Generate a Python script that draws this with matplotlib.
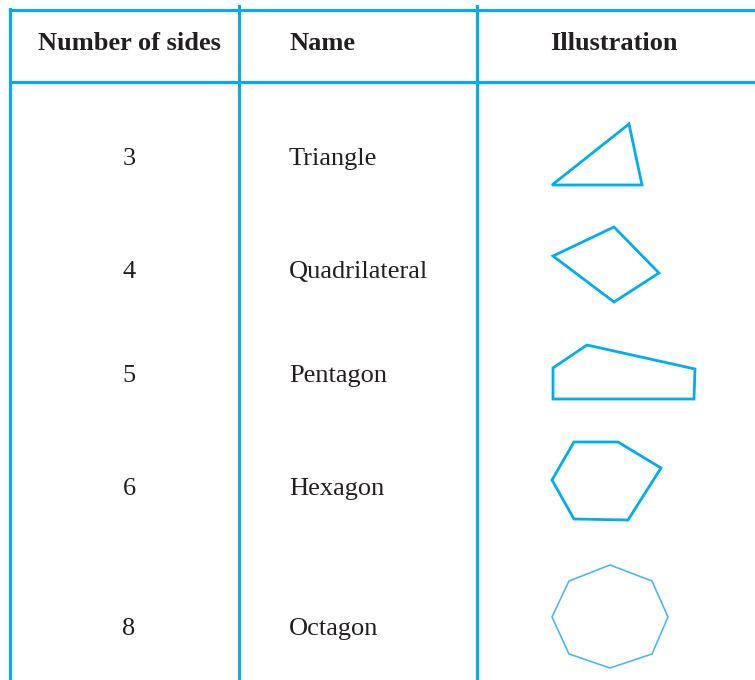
import matplotlib.pyplot as plt
from matplotlib.patches import Polygon

# table content
headers = ["Number of sides", "Name", "Illustration"]
sides = ["3", "4", "5", "6", "8"]
names = ["Triangle", "Quadrilateral", "Pentagon", "Hexagon", "Octagon"]
row_y = [157, 270, 374, 487, 627]

# polygon outlines (pixel coords)
triangle = [(552, 185), (629, 124), (642, 185)]
quad = [(553, 256), (614, 227), (659, 273), (614, 302)]
pentagon = [(553, 368), (587, 345), (695, 369), (694, 399), (553, 399)]
hexagon = [(574, 442), (618, 442), (661, 468), (628, 520), (574, 519), (552, 480)]
octagon = [(610, 565), (652, 581), (668, 617), (652, 654), (610, 668),
           (569, 654), (552, 617), (569, 581)]
shapes = [triangle, quad, pentagon, hexagon, octagon]

blue = "#00aeef"
ink = "#231f20"

fig = plt.figure(figsize=(7.55, 6.8), dpi=100)
ax = fig.add_axes([0, 0, 1, 1])
ax.set_xlim(0, 755)
ax.set_ylim(680, 0)
ax.axis("off")

# grid lines
ax.plot([10, 755], [10, 10], color=blue, lw=2.2)
ax.plot([10, 755], [82, 82], color=blue, lw=2.2)
ax.plot([10, 10], [9, 680], color=blue, lw=2.2)
for x in [239, 477]:
    ax.plot([x, x], [6, 680], color=blue, lw=2.2)

serif = ["Liberation Serif", "DejaVu Serif"]
fs = 19
ax.text(129, 43, headers[0], ha="center", va="center", fontsize=fs,
        fontweight="bold", family=serif, color=ink)
ax.text(289, 43, headers[1], ha="left", va="center", fontsize=fs,
        fontweight="bold", family=serif, color=ink)
ax.text(614, 43, headers[2], ha="center", va="center", fontsize=fs,
        fontweight="bold", family=serif, color=ink)

for s, n, y in zip(sides, names, row_y):
    ax.text(129, y + 2, s, ha="center", va="center", fontsize=fs,
            family=serif, color=ink)
    ax.text(289, y + 2, n, ha="left", va="center", fontsize=fs,
            family=serif, color=ink)

for i, pts in enumerate(shapes):
    lw = 1.2 if i == len(shapes) - 1 else 2.0
    col = "#4db8ee" if i == len(shapes) - 1 else blue
    ax.add_patch(Polygon(pts, closed=True, fill=False, edgecolor=col,
                         lw=lw, joinstyle="miter"))

fig.savefig("out.png", dpi=100)
